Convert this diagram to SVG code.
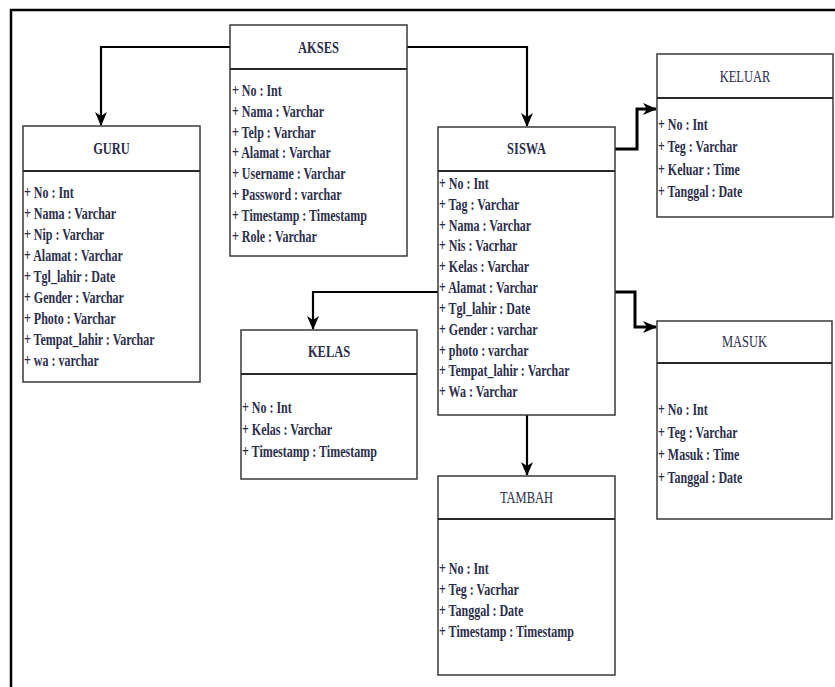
<svg xmlns="http://www.w3.org/2000/svg" width="835" height="687" viewBox="0 0 835 687">
  <style>
    .box { fill: #ffffff; stroke: #3a3a3a; stroke-width: 1.5; }
    .sep { stroke: #2a2a2a; stroke-width: 1.8; }
    .title { font-family: "Liberation Serif", "DejaVu Serif", serif; font-size: 16px; fill: #2b2e4a; text-anchor: middle; }
    .bold { font-weight: bold; }
    .attr { font-family: "Liberation Serif", "DejaVu Serif", serif; font-size: 16px; font-weight: bold; fill: #2b2e4a; }
    .conn { fill: none; stroke: #000000; stroke-width: 2.2; }
    .thick { stroke-width: 3; }
    .frame { fill: none; stroke: #000000; stroke-width: 2.5; }
  </style>
  <defs>
    <marker id="arrow" viewBox="0 0 14 12" refX="13" refY="6" markerWidth="14" markerHeight="12" markerUnits="userSpaceOnUse" orient="auto">
      <path d="M0,0 L14,6 L0,12 L4,6 Z" fill="#000000"/>
    </marker>
  </defs>

  <rect width="835" height="687" fill="#ffffff"/>
  <!-- page frame -->
  <path class="frame" d="M11,687 V10 H835"/>

  <!-- connectors -->
  <g id="connectors">
    <path class="conn" d="M230,47 H101 V125" marker-end="url(#arrow)"/>
    <path class="conn" d="M407,47 H527 V126" marker-end="url(#arrow)"/>
    <path class="conn thick" d="M615,149 H637 V109 H656" marker-end="url(#arrow)"/>
    <path class="conn" d="M438,292 H313 V329" marker-end="url(#arrow)"/>
    <path class="conn thick" d="M615,292 H635 V327 H656" marker-end="url(#arrow)"/>
    <path class="conn" d="M527,415 V475" marker-end="url(#arrow)"/>
  </g>

  <!-- AKSES -->
  <g id="akses">
    <rect class="box" x="230" y="25" width="177" height="231"/>
    <line class="sep" x1="230" y1="69" x2="407" y2="69"/>
    <text class="title bold" transform="translate(318.5,53) scale(0.78,1)">AKSES</text>
    <g transform="translate(232,0) scale(0.75,1)">
      <text class="attr" x="0" y="96">+ No : Int</text>
      <text class="attr" x="0" y="117">+ Nama : Varchar</text>
      <text class="attr" x="0" y="138">+ Telp : Varchar</text>
      <text class="attr" x="0" y="158">+ Alamat : Varchar</text>
      <text class="attr" x="0" y="179">+ Username : Varchar</text>
      <text class="attr" x="0" y="200">+ Password : varchar</text>
      <text class="attr" x="0" y="221">+ Timestamp : Timestamp</text>
      <text class="attr" x="0" y="242">+ Role : Varchar</text>
    </g>
  </g>

  <!-- GURU -->
  <g id="guru">
    <rect class="box" x="23" y="126" width="177" height="256"/>
    <line class="sep" x1="23" y1="171" x2="200" y2="171"/>
    <text class="title bold" transform="translate(111.5,154) scale(0.78,1)">GURU</text>
    <g transform="translate(24,0) scale(0.75,1)">
      <text class="attr" x="0" y="198">+ No : Int</text>
      <text class="attr" x="0" y="219">+ Nama : Varchar</text>
      <text class="attr" x="0" y="240">+ Nip :  Varchar</text>
      <text class="attr" x="0" y="261">+ Alamat : Varchar</text>
      <text class="attr" x="0" y="282">+ Tgl_lahir : Date</text>
      <text class="attr" x="0" y="303">+ Gender : Varchar</text>
      <text class="attr" x="0" y="324">+ Photo : Varchar</text>
      <text class="attr" x="0" y="345">+ Tempat_lahir : Varchar</text>
      <text class="attr" x="0" y="366">+ wa : varchar</text>
    </g>
  </g>

  <!-- SISWA -->
  <g id="siswa">
    <rect class="box" x="438" y="127" width="177" height="288"/>
    <line class="sep" x1="438" y1="171" x2="615" y2="171"/>
    <text class="title bold" transform="translate(526.5,154) scale(0.78,1)">SISWA</text>
    <g transform="translate(439,0) scale(0.75,1)">
      <text class="attr" x="0" y="189">+ No : Int</text>
      <text class="attr" x="0" y="210">+ Tag : Varchar</text>
      <text class="attr" x="0" y="231">+ Nama : Varchar</text>
      <text class="attr" x="0" y="251">+ Nis : Vacrhar</text>
      <text class="attr" x="0" y="272">+ Kelas : Varchar</text>
      <text class="attr" x="0" y="293">+ Alamat : Varchar</text>
      <text class="attr" x="0" y="314">+ Tgl_lahir : Date</text>
      <text class="attr" x="0" y="335">+ Gender : varchar</text>
      <text class="attr" x="0" y="356">+ photo : varchar</text>
      <text class="attr" x="0" y="376">+ Tempat_lahir : Varchar</text>
      <text class="attr" x="0" y="397">+ Wa : Varchar</text>
    </g>
  </g>

  <!-- KELUAR -->
  <g id="keluar">
    <rect class="box" x="657" y="54" width="176" height="163"/>
    <line class="sep" x1="657" y1="98" x2="833" y2="98"/>
    <text class="title" transform="translate(745,82) scale(0.78,1)">KELUAR</text>
    <g transform="translate(658,0) scale(0.75,1)">
      <text class="attr" x="0" y="130">+ No : Int</text>
      <text class="attr" x="0" y="152">+ Teg : Varchar</text>
      <text class="attr" x="0" y="175">+ Keluar : Time</text>
      <text class="attr" x="0" y="197">+ Tanggal : Date</text>
    </g>
  </g>

  <!-- KELAS -->
  <g id="kelas">
    <rect class="box" x="241" y="330" width="176" height="149"/>
    <line class="sep" x1="241" y1="374" x2="417" y2="374"/>
    <text class="title bold" transform="translate(329,357) scale(0.78,1)">KELAS</text>
    <g transform="translate(242,0) scale(0.75,1)">
      <text class="attr" x="0" y="413">+ No : Int</text>
      <text class="attr" x="0" y="435">+ Kelas : Varchar</text>
      <text class="attr" x="0" y="457">+ Timestamp : Timestamp</text>
    </g>
  </g>

  <!-- MASUK -->
  <g id="masuk">
    <rect class="box" x="657" y="321" width="175" height="198"/>
    <line class="sep" x1="657" y1="363" x2="832" y2="363"/>
    <text class="title" transform="translate(744.5,347) scale(0.78,1)">MASUK</text>
    <g transform="translate(658,0) scale(0.75,1)">
      <text class="attr" x="0" y="415">+ No : Int</text>
      <text class="attr" x="0" y="438">+ Teg : Varchar</text>
      <text class="attr" x="0" y="460">+ Masuk : Time</text>
      <text class="attr" x="0" y="483">+ Tanggal : Date</text>
    </g>
  </g>

  <!-- TAMBAH -->
  <g id="tambah">
    <rect class="box" x="438" y="476" width="177" height="199"/>
    <line class="sep" x1="438" y1="519" x2="615" y2="519"/>
    <text class="title" transform="translate(526.5,503) scale(0.78,1)">TAMBAH</text>
    <g transform="translate(439,0) scale(0.75,1)">
      <text class="attr" x="0" y="574">+ No : Int</text>
      <text class="attr" x="0" y="595">+ Teg : Vacrhar</text>
      <text class="attr" x="0" y="616">+ Tanggal : Date</text>
      <text class="attr" x="0" y="637">+ Timestamp : Timestamp</text>
    </g>
  </g>
</svg>
